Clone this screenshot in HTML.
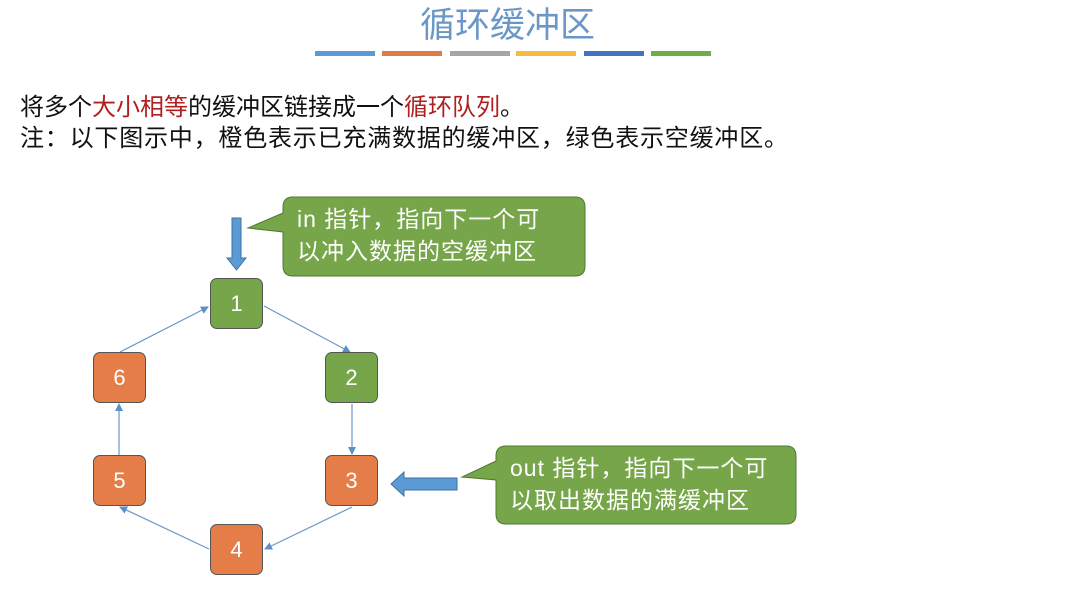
<!DOCTYPE html>
<html><head><meta charset="utf-8"><style>
body{margin:0;width:1068px;height:614px;background:#fff;overflow:hidden;position:relative;font-family:"Liberation Sans","Noto Sans CJK SC",sans-serif}
.t{position:absolute;white-space:nowrap}
.n{position:absolute;width:51px;height:49px;border:1px solid #555;border-radius:7px;color:#fff;font-size:22px;text-align:center;line-height:49px}
.g{background:#77a64a}.o{background:#e47d48}
.bar{position:absolute;top:51px;height:5px;width:60px}
</style></head><body>
<div class="t" style="left:420px;top:-3px;font-size:35px;color:#6a97c6">循环缓冲区</div>
<div class="bar" style="left:315px;background:#5b9bd5"></div>
<div class="bar" style="left:382px;background:#e07b45"></div>
<div class="bar" style="left:450px;background:#a5a5a5"></div>
<div class="bar" style="left:516px;background:#f5bb42"></div>
<div class="bar" style="left:584px;background:#4472c4"></div>
<div class="bar" style="left:651px;background:#70ad47"></div>
<div class="t" style="left:20px;top:87px;font-size:24px;color:#111">将多个<span style="color:#b02020">大小相等</span>的缓冲区链接成一个<span style="color:#b02020">循环队列</span>。</div>
<div class="t" style="left:20px;top:118px;font-size:24px;letter-spacing:0.8px;color:#111">注：以下图示中，橙色表示已充满数据的缓冲区，绿色表示空缓冲区。</div>
<svg style="position:absolute;left:0;top:0" width="1068" height="614">
<defs><marker id="a" markerWidth="8" markerHeight="8" refX="7" refY="4" orient="auto" markerUnits="userSpaceOnUse"><path d="M0,0 L8,4 L0,8 Z" fill="#5b8fc7"/></marker></defs>
<g stroke="#6a97c6" stroke-width="1.2" fill="none" marker-end="url(#a)">
<line x1="264" y1="306" x2="350" y2="352"/>
<line x1="352" y1="404" x2="352" y2="454"/>
<line x1="352" y1="507" x2="265" y2="549"/>
<line x1="209" y1="549" x2="120" y2="507"/>
<line x1="119" y1="455" x2="119" y2="404"/>
<line x1="120" y1="352" x2="208" y2="307"/>
</g>
<path d="M232,218 H241 V258 H246 L236.5,270 L227,258 H232 Z" fill="#5b9bd5" stroke="#41719c"/>
<path d="M457,478 H404 V472 L391,484 L404,496 V490 H457 Z" fill="#5b9bd5" stroke="#41719c"/>
<path d="M291,197 H575 Q585,197 585,207 V266 Q585,276 575,276 H293 Q283,276 283,266 V232 L248,228 L283,213 V207 Q283,197 293,197 Z" fill="#77a64a" stroke="#4f7a30"/>
<path d="M506,446 H786 Q796,446 796,456 V514 Q796,524 786,524 H506 Q496,524 496,514 V480 L462,477 L496,461 V456 Q496,446 506,446 Z" fill="#77a64a" stroke="#4f7a30"/>
</svg>
<div class="t" style="left:297px;top:203px;font-size:23px;letter-spacing:1px;color:#fff;line-height:32px">in 指针，指向下一个可<br>以冲入数据的空缓冲区</div>
<div class="t" style="left:510px;top:452px;font-size:23px;letter-spacing:1px;color:#fff;line-height:32px">out 指针，指向下一个可<br>以取出数据的满缓冲区</div>
<div class="n g" style="left:210px;top:278px">1</div>
<div class="n g" style="left:325px;top:352px">2</div>
<div class="n o" style="left:325px;top:455px">3</div>
<div class="n o" style="left:210px;top:524px">4</div>
<div class="n o" style="left:93px;top:455px">5</div>
<div class="n o" style="left:93px;top:352px">6</div>
</body></html>
